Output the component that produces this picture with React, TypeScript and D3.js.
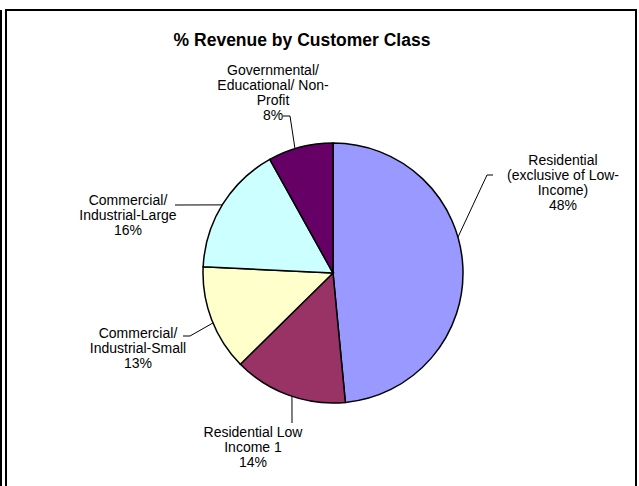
import React from "react";
import * as d3 from "d3";

const categories = [
  "Residential (exclusive of Low-Income)",
  "Residential Low Income 1",
  "Commercial/ Industrial-Small",
  "Commercial/ Industrial-Large",
  "Governmental/ Educational/ Non-Profit",
];
const values = [48, 14, 13, 16, 8];
const colors = ["#9999FF", "#993366", "#FFFFCC", "#CCFFFF", "#660066"];
const labelLines = [
  ["Residential", "(exclusive of Low-", "Income)", "48%"],
  ["Residential Low", "Income 1", "14%"],
  ["Commercial/", "Industrial-Small", "13%"],
  ["Commercial/", "Industrial-Large", "16%"],
  ["Governmental/", "Educational/ Non-", "Profit", "8%"],
];
// label anchor (center x, first line center y)
const labelPos = [
  [563, 160],
  [253, 432],
  [138, 333],
  [128, 200],
  [273, 70],
];
// leader lines: points near the label, then to the pie edge
const leaders: [number, number][][] = [
  [[493, 175], [487, 175]],
  [[292, 423]],
  [[183, 336], [190, 336]],
  [[175, 205]],
  [[283, 116], [290, 116]],
];
// angle (deg, clockwise from top) where each leader meets the pie
const edgeDeg = [74, 198.4, 247.4, 301.6, 343];

const W = 639, H = 486;
const cx = 333, cy = 273, r = 130;
const fontSize = 14;
const lineH = 15;

export default function App() {
  const pie = d3.pie<number>().sort(null).value((d) => d);
  const arcs = pie(values);
  const arc = d3.arc<d3.PieArcDatum<number>>().innerRadius(0).outerRadius(r);
  const edgePts = edgeDeg.map((deg) => {
    const ang = (deg * Math.PI) / 180;
    return [cx + r * Math.sin(ang), cy - r * Math.cos(ang)];
  });
  return (
    <svg width={W} height={H} style={{ position: "absolute", left: 0, top: 0 }}
      fontFamily="Arial, 'Liberation Sans', sans-serif">
      <rect x={0} y={0} width={W} height={H} fill="#fff" />
      <line x1={1} y1={10} x2={1} y2={H} stroke="#000" strokeWidth={2} />
      <rect x={6} y={10} width={630} height={H} fill="#fff" stroke="#000" strokeWidth={2} />
      <text x={302} y={46} textAnchor="middle" fontWeight="bold" fontSize={17.5}>
        % Revenue by Customer Class
      </text>
      <g transform={`translate(${cx},${cy})`}>
        {arcs.map((a, i) => (
          <path key={categories[i]} d={arc(a) || ""} fill={colors[i]} stroke="#000" strokeWidth={1.5} />
        ))}
      </g>
      {leaders.map((pts, i) => {
        const all = [...pts, edgePts[i]];
        return (
          <polyline key={i} points={all.map((p) => p.join(",")).join(" ")} fill="none" stroke="#000" strokeWidth={1} />
        );
      })}
      {labelLines.map((lines, i) => (
        <text key={i} textAnchor="middle" fontSize={fontSize}>
          {lines.map((l, j) => (
            <tspan key={j} x={labelPos[i][0]} y={labelPos[i][1] + j * lineH + fontSize * 0.35}>{l}</tspan>
          ))}
        </text>
      ))}
    </svg>
  );
}
